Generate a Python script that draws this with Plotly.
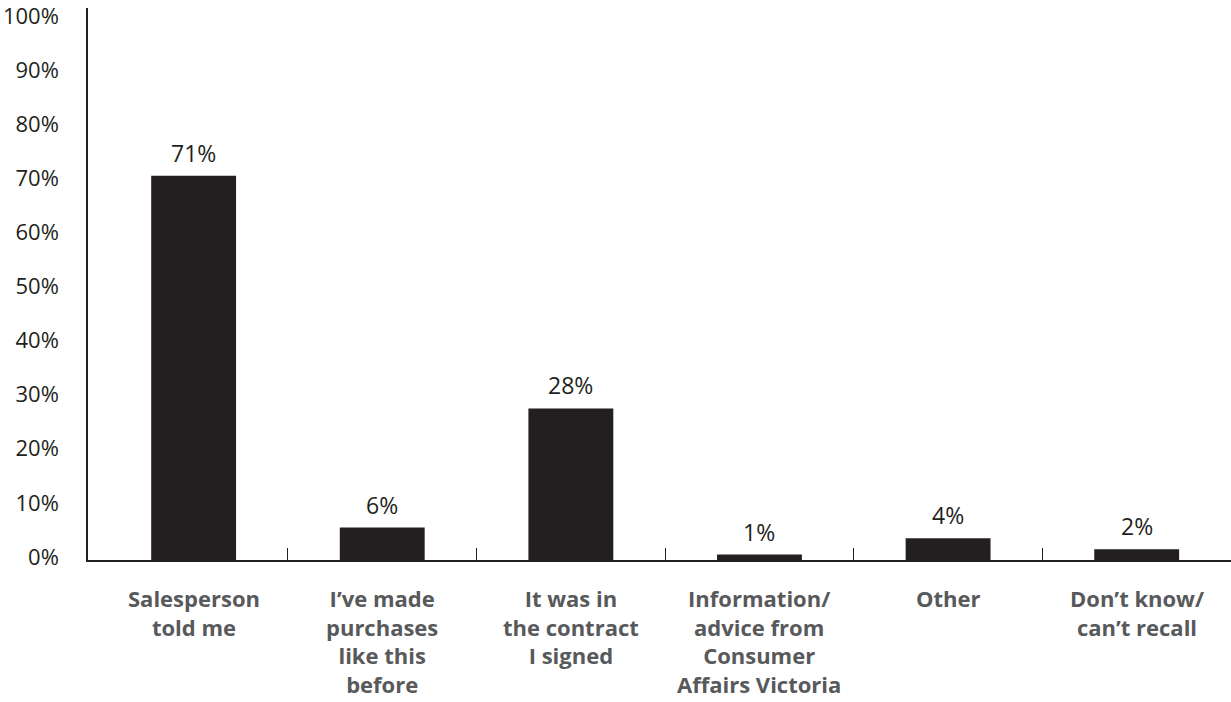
import plotly.graph_objects as go

categories = [
    "Salesperson<br>told me",
    "I\u2019ve made<br>purchases<br>like this<br>before",
    "It was in<br>the contract<br>I signed",
    "Information/<br>advice from<br>Consumer<br>Affairs Victoria",
    "Other",
    "Don\u2019t know/<br>can\u2019t recall",
]
values = [71, 6, 28, 1, 4, 2]
y_ticks = [0, 10, 20, 30, 40, 50, 60, 70, 80, 90, 100]
y_tick_labels = [f"{v}%" for v in y_ticks]

ink = "#231f20"
label_grey = "#58595b"
font_family = "'Open Sans', Lato, 'DejaVu Sans', sans-serif"

x_pos = list(range(len(categories)))

fig = go.Figure()
fig.add_trace(go.Bar(
    x=x_pos,
    y=values,
    width=0.45,
    marker=dict(color=ink, line=dict(width=0)),
    hoverinfo="skip",
))

# Value labels above each bar
for xi, v in zip(x_pos, values):
    fig.add_annotation(
        x=xi, y=v, xref="x", yref="y",
        yanchor="bottom", yshift=5,
        text=f"{v}%",
        showarrow=False,
        font=dict(family=font_family, size=23, color=ink),
    )

# Category names centred under each bar
for xi, name in zip(x_pos, categories):
    fig.add_annotation(
        x=xi, y=0, xref="x", yref="paper",
        yanchor="top", yshift=-21,
        text=f"<b>{name}</b>",
        showarrow=False,
        align="center",
        font=dict(family=font_family, size=22, color=label_grey),
    )

fig.update_layout(
    width=1231, height=702,
    margin=dict(l=88, r=0, t=4, b=142),
    paper_bgcolor="white",
    plot_bgcolor="white",
    showlegend=False,
    xaxis=dict(
        range=[-0.56, 5.5],
        tickmode="array",
        tickvals=[0.5, 1.5, 2.5, 3.5, 4.5],
        ticktext=["", "", "", "", ""],
        ticks="inside",
        ticklen=12,
        tickwidth=1.2,
        tickcolor=ink,
        showline=True,
        linecolor=ink,
        linewidth=1.5,
        showgrid=False,
        zeroline=False,
        fixedrange=True,
    ),
    yaxis=dict(
        range=[0, 102],
        tickmode="array",
        tickvals=y_ticks,
        ticktext=y_tick_labels,
        ticks="",
        ticklabelstandoff=23,
        ticklabelshift=-3,
        ticklabeloverflow="allow",
        tickfont=dict(family=font_family, size=22, color=ink),
        showline=True,
        linecolor=ink,
        linewidth=1.5,
        showgrid=False,
        zeroline=False,
        fixedrange=True,
    ),
)

fig.write_html("out.html")
